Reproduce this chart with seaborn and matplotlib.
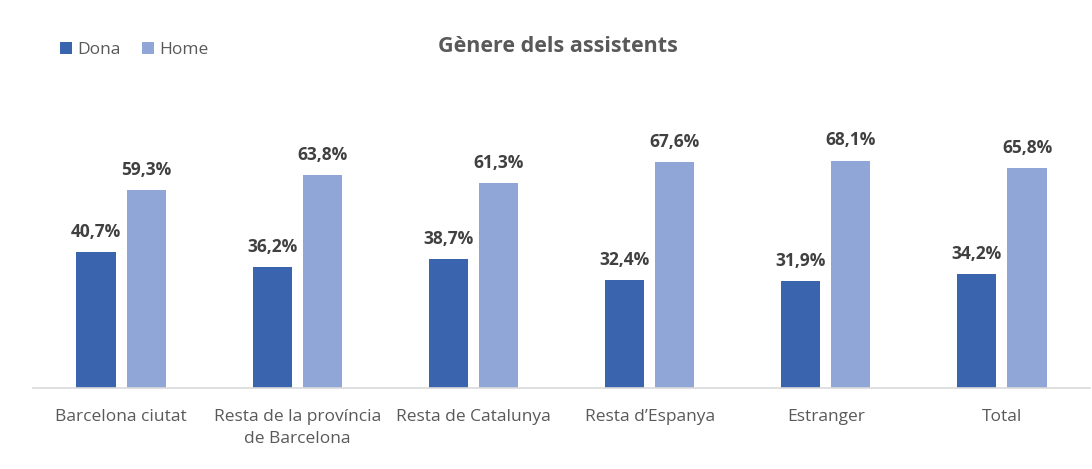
import matplotlib
matplotlib.use("Agg")
import matplotlib.pyplot as plt
from matplotlib.patches import Patch
import seaborn as sns
import pandas as pd

categories = ["Barcelona ciutat", "Resta de la província\nde Barcelona", "Resta de Catalunya",
              "Resta d\u2019Espanya", "Estranger", "Total"]
dona = [40.7, 36.2, 38.7, 32.4, 31.9, 34.2]
home = [59.3, 63.8, 61.3, 67.6, 68.1, 65.8]
series = ["Dona", "Home"]
colors = ["#3A64AD", "#8FA6D6"]

df = pd.DataFrame({
    "cat": categories * 2,
    "val": dona + home,
    "ser": [series[0]] * len(categories) + [series[1]] * len(categories),
})

sns.set_theme(style="white")
plt.rcParams["font.family"] = ["Open Sans", "DejaVu Sans"]

W, H = 1092, 469
fig = plt.figure(figsize=(W / 100, H / 100), dpi=100)
ax = fig.add_axes([33 / W, 1 - 388 / H, (1090 - 33) / W, 288 / H])

sns.barplot(data=df, x="cat", y="val", hue="ser", palette=colors, width=0.57, gap=0.22,
            ax=ax, legend=False, saturation=1, linewidth=0, edgecolor="none")

ax.set_ylim(0, 288 / 3.34)
ax.set_xlim(-0.5, len(categories) - 0.5)
ax.set_xlabel("")
ax.set_ylabel("")
ax.set_yticks([])
for s in ["left", "right", "top"]:
    ax.spines[s].set_visible(False)
ax.spines["bottom"].set_color("#D9D9D9")
ax.spines["bottom"].set_linewidth(1.2)
ax.tick_params(axis="x", length=0, pad=15, labelsize=12.5, labelcolor="#595959")
for lbl in ax.get_xticklabels():
    lbl.set_linespacing(1.55)

for cont in ax.containers:
    labels = [f"{v:.1f}%".replace(".", ",") for v in cont.datavalues]
    ax.bar_label(cont, labels=labels, padding=8, fontsize=12.5, fontweight="bold", color="#404040")

fig.text(558 / W, 1 - 46 / H, "Gènere dels assistents", ha="center", va="center",
         fontsize=15.5, fontweight="bold", color="#595959")

handles = [Patch(facecolor=c, edgecolor="none") for c in colors]
fig.legend(handles, series, loc="center left", bbox_to_anchor=(60 / W, 1 - 50 / H), ncol=2,
           frameon=False, fontsize=12.5, labelcolor="#595959", handlelength=0.7, handleheight=0.7,
           handletextpad=0.3, columnspacing=1.2, borderaxespad=0, borderpad=0)

fig.savefig("out.png", dpi=100, facecolor="white")
